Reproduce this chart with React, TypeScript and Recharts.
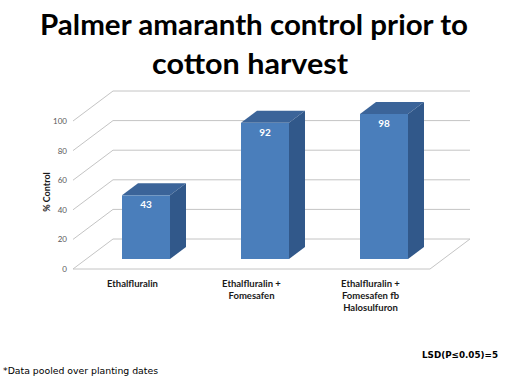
import { Bar, BarChart, CartesianGrid, XAxis, YAxis } from 'recharts';

const categories = ['Ethalfluralin', 'Ethalfluralin + Fomesafen', 'Ethalfluralin + Fomesafen fb Halosulfuron'];
const categoryLines = [['Ethalfluralin'], ['Ethalfluralin +', 'Fomesafen'], ['Ethalfluralin +', 'Fomesafen fb', 'Halosulfuron']];
const control = [43, 92, 98];
const yTicks = [0, 20, 40, 60, 80, 100];

const data = categories.map((name, i) => ({ name, control: control[i] }));

// 3d look: floor/wall depth and where the bars sit inside it
const DEPTH_X = 40;
const DEPTH_Y = -30;
const BAR_DX = 13;
const BAR_DY = -10;
const BAR_DEPTH_X = 16;
const BAR_DEPTH_Y = -12;
const GRID = '#c4c4c4';
const FONT = 'Lato, "Open Sans", sans-serif';

function GridLine(props: any) {
  const { x1, x2, y1, index } = props;
  const bx = x1 + DEPTH_X;
  const by = y1 + DEPTH_Y;
  return (
    <g key={`g-${index}`}>
      <line x1={x1} y1={y1} x2={bx} y2={by} stroke={GRID} />
      <line x1={bx} y1={by} x2={x2 + DEPTH_X} y2={by} stroke={GRID} />
      {index === 0 || y1 > 260 ? (
        <line x1={x2} y1={y1} x2={x2 + DEPTH_X} y2={by} stroke={GRID} />
      ) : null}
    </g>
  );
}

function Bar3D(props: any) {
  const { x, y, width, height, payload } = props;
  const fx = x + BAR_DX;
  const fy = y + BAR_DY;
  const top = `${fx},${fy} ${fx + width},${fy} ${fx + width + BAR_DEPTH_X},${fy + BAR_DEPTH_Y} ${fx + BAR_DEPTH_X},${fy + BAR_DEPTH_Y}`;
  const side = `${fx + width},${fy} ${fx + width + BAR_DEPTH_X},${fy + BAR_DEPTH_Y} ${fx + width + BAR_DEPTH_X},${fy + height + BAR_DEPTH_Y} ${fx + width},${fy + height}`;
  return (
    <g>
      <rect x={fx} y={fy} width={width} height={height} fill="#4a7ebb" />
      <polygon points={top} fill="#3b6499" />
      <polygon points={side} fill="#31588a" />
      <text
        x={fx + width / 2}
        y={fy + 13}
        textAnchor="middle"
        fill="#ffffff"
        fontSize={10}
        fontWeight={700}
        fontFamily={FONT}
      >
        {payload.control}
      </text>
    </g>
  );
}

function CategoryTick(props: any) {
  const { x, payload } = props;
  const idx = categories.indexOf(payload.value);
  const lines = categoryLines[idx] || [payload.value];
  return (
    <g>
      {lines.map((l, i) => (
        <text
          key={i}
          x={x}
          y={287 + i * 12}
          textAnchor="middle"
          fill="#1a1a1a"
          fontSize={9.5}
          fontWeight={700}
          fontFamily={FONT}
        >
          {l}
        </text>
      ))}
    </g>
  );
}

function ValueTick(props: any) {
  const { y, payload } = props;
  return (
    <text x={67} y={y + 3} textAnchor="end" fill="#595959" fontSize={8} fontFamily={FONT}>
      {payload.value}
    </text>
  );
}

export default function App() {
  return (
    <div style={{ position: 'absolute', left: 0, top: 0, width: 512, height: 384, background: '#fff' }}>
      <svg width={512} height={384} style={{ position: 'absolute', left: 0, top: 0 }}>
        <text x={254} y={35} textAnchor="middle" fontSize={29} fontWeight={700} fontFamily={FONT} textLength={428} lengthAdjust="spacingAndGlyphs">
          Palmer amaranth control prior to
        </text>
        <text x={250} y={74} textAnchor="middle" fontSize={29} fontWeight={700} fontFamily={FONT} textLength={196} lengthAdjust="spacingAndGlyphs">
          cotton harvest
        </text>
        <text x={3} y={374} fontSize={8} fontFamily={'"DejaVu Sans", sans-serif'} textLength={155} lengthAdjust="spacingAndGlyphs">
          *Data pooled over planting dates
        </text>
        <text x={422} y={358} fontSize={9} fontWeight={700} fontFamily={'"DejaVu Sans", sans-serif'} textLength={76} lengthAdjust="spacingAndGlyphs">
          LSD(P≤0.05)=5
        </text>
      </svg>
      <div style={{ position: 'absolute', left: 0, top: 0 }}>
        <BarChart width={512} height={384} data={data} margin={{ top: 121, right: 82, bottom: 55, left: 0 }} barSize={48}>
          <CartesianGrid vertical={false} horizontal={(p: any) => <GridLine {...p} />} />
          <XAxis
            dataKey="name"
            height={60}
            tickLine={false}
            axisLine={{ stroke: GRID }}
            tick={<CategoryTick />}
            interval={0}
          />
          <YAxis
            width={73}
            domain={[0, 100]}
            ticks={yTicks}
            tickLine={false}
            axisLine={false}
            tick={<ValueTick />}
            label={{
              value: '% Control',
              angle: -90,
              position: 'insideLeft',
              dx: 42,
              dy: -3,
              style: { fontSize: 9, fontWeight: 700, fill: '#1a1a1a', fontFamily: FONT, textAnchor: 'middle' },
            }}
          />
          <Bar dataKey="control" shape={(p: any) => <Bar3D {...p} />} isAnimationActive={false} />
        </BarChart>
      </div>
    </div>
  );
}
